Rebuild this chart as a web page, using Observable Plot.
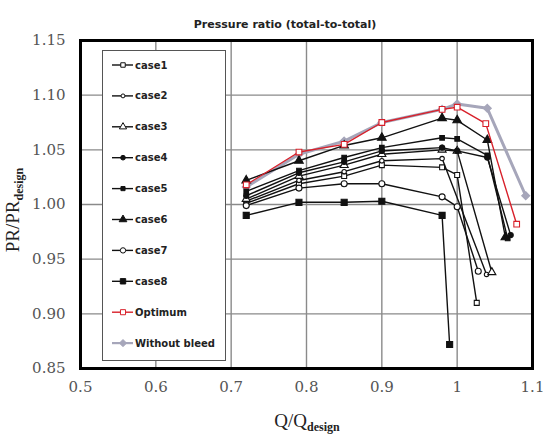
<!DOCTYPE html>
<html>
<head>
<meta charset="utf-8">
<script src="https://cdn.jsdelivr.net/npm/d3@7"></script>
<script src="https://cdn.jsdelivr.net/npm/@observablehq/plot@0.6"></script>
<style>
  html, body { margin: 0; padding: 0; background: #fff; }
  #fig { position: relative; width: 543px; height: 436px; overflow: hidden; }
  #fig > svg.chart { position: absolute; left: 0; top: 0; }
  .title { position: absolute; left: 285px; top: 24px; transform: translate(-50%, -50%);
           font: bold 11px "DejaVu Sans", sans-serif; color: #222; white-space: nowrap; }
  .axt { position: absolute; font-family: "Liberation Serif", serif; font-size: 19px; color: #222; white-space: nowrap; }
  .axt sub { font-weight: bold; font-size: 12px; vertical-align: -4px; }
  #ytitle { left: 14px; top: 210px; transform: translate(-50%, -50%) rotate(-90deg); }
  #xtitle { left: 307px; top: 422px; transform: translate(-50%, -50%); }
</style>
</head>
<body>
<div id="fig">
  <div class="title">Pressure ratio (total-to-total)</div>
  <div class="axt" id="ytitle">PR/PR<sub>design</sub></div>
  <div class="axt" id="xtitle">Q/Q<sub>design</sub></div>
</div>
<script>
// Normalised flow (Q/Qdesign) and pressure ratio (PR/PRdesign) for each bleed case
const q_case1 = [0.72, 0.79, 0.85, 0.90, 0.98, 1.00, 1.026];
const pr_case1 = [1.001, 1.019, 1.026, 1.036, 1.034, 1.027, 0.910];

const q_case2 = [0.72, 0.79, 0.85, 0.90, 0.98, 1.039];
const pr_case2 = [1.003, 1.022, 1.030, 1.040, 1.042, 0.936];

const q_case3 = [0.72, 0.79, 0.85, 0.90, 0.98, 1.00, 1.046];
const pr_case3 = [1.005, 1.026, 1.036, 1.046, 1.050, 1.049, 0.938];

const q_case4 = [0.72, 0.79, 0.85, 0.90, 0.98, 1.00, 1.04, 1.071];
const pr_case4 = [1.008, 1.029, 1.039, 1.049, 1.052, 1.049, 1.043, 0.972];

const q_case5 = [0.72, 0.79, 0.85, 0.90, 0.98, 1.00, 1.04, 1.067];
const pr_case5 = [1.012, 1.031, 1.043, 1.052, 1.061, 1.060, 1.045, 0.969];

const q_case6 = [0.72, 0.79, 0.85, 0.90, 0.98, 1.00, 1.04, 1.064];
const pr_case6 = [1.022, 1.040, 1.054, 1.061, 1.079, 1.077, 1.059, 0.970];

const q_case7 = [0.72, 0.79, 0.85, 0.90, 0.98, 1.00, 1.028];
const pr_case7 = [0.999, 1.015, 1.019, 1.019, 1.007, 0.998, 0.939];

const q_case8 = [0.72, 0.79, 0.85, 0.90, 0.98, 0.99];
const pr_case8 = [0.990, 1.002, 1.002, 1.003, 0.990, 0.872];

const q_optimum = [0.72, 0.79, 0.85, 0.90, 0.98, 1.00, 1.038, 1.079];
const pr_optimum = [1.018, 1.048, 1.055, 1.075, 1.087, 1.089, 1.074, 0.982];

const q_nobleed = [0.72, 0.79, 0.85, 0.90, 0.98, 1.00, 1.04, 1.091];
const pr_nobleed = [1.016, 1.046, 1.058, 1.075, 1.087, 1.092, 1.088, 1.008];

const xTicks = [0.5, 0.6, 0.7, 0.8, 0.9, 1, 1.1];
const yTicks = [0.85, 0.90, 0.95, 1.00, 1.05, 1.10, 1.15];

// Drawing style of each series (line colour/width and marker)
const series = [
  {name: "Without bleed", q: q_nobleed, pr: pr_nobleed, color: "#a6a6ba", width: 3, symbol: "diamond2", fill: "#a6a6ba", r: 3.6},
  {name: "case1", q: q_case1, pr: pr_case1, color: "#111", width: 1.4, symbol: "square", fill: "white", r: 2.8},
  {name: "case2", q: q_case2, pr: pr_case2, color: "#111", width: 1.4, symbol: "circle", fill: "white", r: 2.2},
  {name: "case3", q: q_case3, pr: pr_case3, color: "#111", width: 1.4, symbol: "triangle", fill: "white", r: 3.0},
  {name: "case4", q: q_case4, pr: pr_case4, color: "#111", width: 1.4, symbol: "circle", fill: "#111", r: 2.6},
  {name: "case5", q: q_case5, pr: pr_case5, color: "#111", width: 1.4, symbol: "square", fill: "#111", r: 2.6},
  {name: "case6", q: q_case6, pr: pr_case6, color: "#111", width: 1.4, symbol: "triangle", fill: "#111", r: 3.2},
  {name: "case7", q: q_case7, pr: pr_case7, color: "#111", width: 1.4, symbol: "circle", fill: "white", r: 3.0},
  {name: "case8", q: q_case8, pr: pr_case8, color: "#111", width: 1.4, symbol: "square", fill: "#111", r: 3.4},
  {name: "Optimum", q: q_optimum, pr: pr_optimum, color: "#d8202a", width: 1.4, symbol: "square", fill: "white", r: 3.2}
];

const marks = [
  Plot.gridX(xTicks, {stroke: "#8a8a8a", strokeOpacity: 1, strokeWidth: 1.4}),
  Plot.gridY(yTicks, {stroke: "#8a8a8a", strokeOpacity: 1, strokeWidth: 1.4}),
  Plot.axisX(xTicks, {tickSize: 0, tickPadding: 13, tickFormat: d => String(d), fontSize: 15, fill: "#555"}),
  Plot.axisY(yTicks, {tickSize: 0, tickPadding: 15, tickFormat: d3.format(".2f"), fontSize: 15, fill: "#555"})
];

for (const s of series) {
  const rows = s.q.map((q, i) => ({q, pr: s.pr[i]}));
  marks.push(Plot.line(rows, {x: "q", y: "pr", stroke: s.color, strokeWidth: s.width}));
  marks.push(Plot.dot(rows, {x: "q", y: "pr", symbol: () => s.symbol, fill: s.fill, stroke: s.color, strokeWidth: 1.1, r: s.r}));
}
marks.push(Plot.frame({stroke: "#000", strokeWidth: 3}));

const chart = Plot.plot({
  width: 543,
  height: 436,
  marginLeft: 80,
  marginRight: 11,
  marginTop: 40,
  marginBottom: 68,
  style: {fontFamily: "'DejaVu Serif', serif", background: "white"},
  x: {domain: [0.5, 1.1], label: null},
  y: {domain: [0.85, 1.15], label: null},
  symbol: {type: "identity"},
  marks
});
chart.classList.add("chart");
const fig = document.getElementById("fig");
fig.insertBefore(chart, fig.firstChild);

// Legend box drawn inside the plot area
const legendOrder = ["case1", "case2", "case3", "case4", "case5", "case6", "case7", "case8", "Optimum", "Without bleed"];
const symbolTypes = {circle: d3.symbolCircle, square: d3.symbolSquare, triangle: d3.symbolTriangle, diamond2: d3.symbolDiamond2};
const lw = 124, lh = 311;
const leg = d3.select("#fig").append("svg")
  .attr("id", "legend").attr("width", lw).attr("height", lh)
  .style("position", "absolute").style("left", "102px").style("top", "50px");
leg.append("rect").attr("x", 0.5).attr("y", 0.5).attr("width", lw - 1).attr("height", lh - 1)
  .attr("fill", "white").attr("stroke", "#555").attr("stroke-width", 1);
legendOrder.forEach((name, i) => {
  const s = series.find(d => d.name === name);
  const y = 15 + i * 30.9;
  const g = leg.append("g").attr("transform", `translate(0,${y})`);
  g.append("line").attr("x1", 10).attr("x2", 31).attr("y1", 0).attr("y2", 0)
    .attr("stroke", s.color).attr("stroke-width", Math.min(s.width, 2.2));
  g.append("path").attr("transform", "translate(21,0)")
    .attr("d", d3.symbol(symbolTypes[s.symbol], Math.PI * s.r * s.r * 0.8)())
    .attr("fill", s.fill).attr("stroke", s.color).attr("stroke-width", 1);
  g.append("text").attr("x", 33).attr("y", 0).attr("dy", "0.35em")
    .attr("font-family", "'DejaVu Sans', sans-serif").attr("font-weight", "bold")
    .attr("font-size", 10).attr("fill", "#222").text(name);
});
</script>
</body>
</html>
